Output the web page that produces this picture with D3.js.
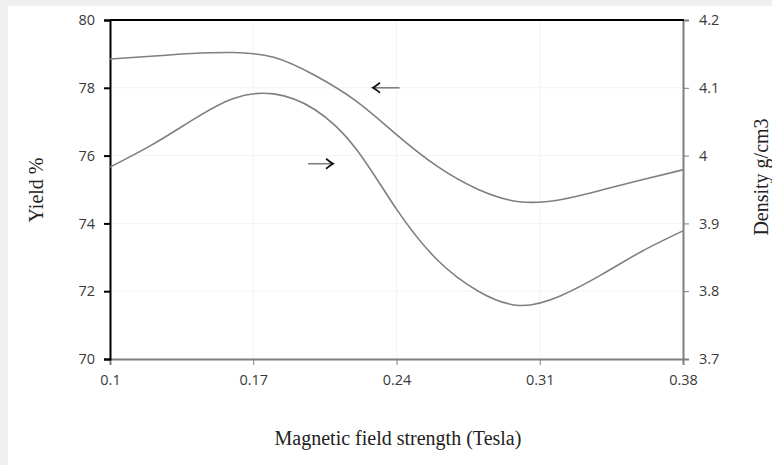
<!DOCTYPE html>
<html><head><meta charset="utf-8">
<script src="https://cdn.jsdelivr.net/npm/d3@7"></script>
<style>html,body{margin:0;padding:0;background:#eff0f2;}svg{display:block;}</style>
</head><body>
<svg id="c" width="772" height="465"></svg>
<script>
const field = [0.10, 0.12, 0.14, 0.16, 0.18, 0.20, 0.22, 0.24, 0.26, 0.28, 0.30, 0.32, 0.34, 0.36, 0.38];
const yieldPct = [78.85, 78.93, 79.01, 79.04, 78.90, 78.37, 77.62, 76.62, 75.68, 75.00, 74.64, 74.70, 74.98, 75.29, 75.58];
const density = [3.983, 4.015, 4.052, 4.084, 4.091, 4.068, 4.011, 3.921, 3.846, 3.800, 3.779, 3.793, 3.824, 3.859, 3.889];
const xTicks = [0.1, 0.17, 0.24, 0.31, 0.38];
const yLeftTicks = [70, 72, 74, 76, 78, 80];
const yRightTicks = [3.7, 3.8, 3.9, 4.0, 4.1, 4.2];
const xTitle = "Magnetic field strength (Tesla)";
const yLeftTitle = "Yield %";
const yRightTitle = "Density g/cm3";

const svg = d3.select("#c");
svg.append("rect").attr("x", 8).attr("y", 6).attr("width", 764).attr("height", 459).attr("fill", "#fff");

const L = 110, R = 683, T = 20, B = 359;
const x = d3.scaleLinear().domain([0.1, 0.38]).range([L, R]);
const yl = d3.scaleLinear().domain([70, 80]).range([B, T]);
const yr = d3.scaleLinear().domain([3.7, 4.2]).range([B, T]);

// faint grid
svg.append("g").selectAll("line").data(yLeftTicks.slice(1, -1)).join("line")
  .attr("x1", L).attr("x2", R).attr("y1", d => yl(d)).attr("y2", d => yl(d))
  .attr("stroke", "#f3f3f3").attr("stroke-width", 1);
svg.append("g").selectAll("line").data(xTicks.slice(1, -1)).join("line")
  .attr("y1", T).attr("y2", B).attr("x1", d => x(d)).attr("x2", d => x(d))
  .attr("stroke", "#f3f3f3").attr("stroke-width", 1);

const tickFont = "'Open Sans', 'Liberation Sans', sans-serif";
const tickSize = 14.5;

// bottom axis
const gx = svg.append("g").attr("transform", `translate(0,${B})`)
  .call(d3.axisBottom(x).tickValues(xTicks).tickSize(6).tickPadding(10).tickFormat(d => String(d)));
gx.select(".domain").attr("stroke", "#7f7f7f").attr("stroke-width", 2);
gx.selectAll(".tick line").attr("stroke", "#7f7f7f").attr("stroke-width", 1);
gx.selectAll("text").attr("font-family", tickFont).attr("font-size", tickSize).attr("fill", "#3a3a3a");

// right axis
const gr = svg.append("g").attr("transform", `translate(${R},0)`)
  .call(d3.axisRight(yr).tickValues(yRightTicks).tickSize(6).tickPadding(10).tickFormat(d => String(+d.toFixed(1))));
gr.select(".domain").attr("stroke", "#7f7f7f").attr("stroke-width", 2);
gr.selectAll(".tick line").attr("stroke", "#7f7f7f").attr("stroke-width", 1);
gr.selectAll("text").attr("font-family", tickFont).attr("font-size", tickSize).attr("fill", "#3a3a3a");

// top border
svg.append("line").attr("x1", L).attr("x2", R + 1).attr("y1", T).attr("y2", T)
  .attr("stroke", "#000").attr("stroke-width", 2);

// left axis
const gl = svg.append("g").attr("transform", `translate(${L},0)`)
  .call(d3.axisLeft(yl).tickValues(yLeftTicks).tickSize(6).tickPadding(9).tickFormat(d3.format("d")));
gl.select(".domain").attr("stroke", "#000").attr("stroke-width", 2);
gl.selectAll(".tick line").attr("stroke", "#000").attr("stroke-width", 2);
gl.selectAll("text").attr("font-family", tickFont).attr("font-size", tickSize).attr("fill", "#3a3a3a");

// curves
const lineL = d3.line().x((d, i) => x(field[i])).y(d => yl(d)).curve(d3.curveNatural);
const lineR = d3.line().x((d, i) => x(field[i])).y(d => yr(d)).curve(d3.curveNatural);
svg.append("path").attr("d", lineL(yieldPct)).attr("fill", "none").attr("stroke", "#7f7f7f").attr("stroke-width", 1.6);
svg.append("path").attr("d", lineR(density)).attr("fill", "none").attr("stroke", "#7f7f7f").attr("stroke-width", 1.6);

// arrows
function arrow(x1, x2, yv, dir) {
  const g = svg.append("g");
  g.append("line").attr("x1", x1).attr("x2", x2).attr("y1", yv).attr("y2", yv)
    .attr("stroke", "#808080").attr("stroke-width", 1.6);
  const tip = dir < 0 ? x1 : x2;
  const s = dir < 0 ? 1 : -1;
  g.append("path").attr("d", `M${tip + s * 7},${yv - 5} Q${tip + s * 2},${yv - 1} ${tip},${yv} Q${tip + s * 2},${yv + 1} ${tip + s * 7},${yv + 5}`)
    .attr("fill", "none").attr("stroke", "#111").attr("stroke-width", 1.8);
}
arrow(x(0.2285), x(0.2415), yl(78.0), -1);
arrow(x(0.1968), x(0.209), yr(3.988), 1);

// titles
const serif = "'Liberation Serif', 'Times New Roman', serif";
svg.append("text").attr("x", 398).attr("y", 445).attr("text-anchor", "middle")
  .attr("font-family", serif).attr("font-size", 20).attr("fill", "#222").text(xTitle);
svg.append("text").attr("transform", "translate(43,190) rotate(-90)").attr("text-anchor", "middle")
  .attr("font-family", serif).attr("font-size", 20).attr("fill", "#222").text(yLeftTitle);
svg.append("text").attr("transform", "translate(768,177) rotate(-90)").attr("text-anchor", "middle")
  .attr("font-family", serif).attr("font-size", 20).attr("fill", "#222").text(yRightTitle);
</script>
</body></html>
